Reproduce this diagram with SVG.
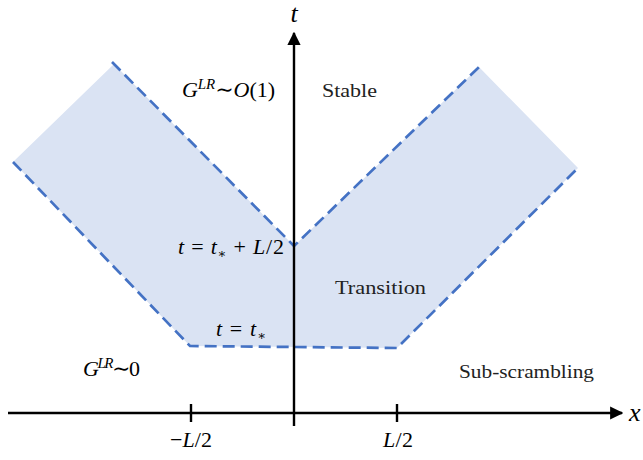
<svg xmlns="http://www.w3.org/2000/svg" width="643" height="460" viewBox="0 0 643 460">
<style>
.m{font-family:"Liberation Serif","DejaVu Serif",serif;font-size:22px;fill:#000}
.big{font-size:26px}
.i{font-style:italic}
.r{font-family:"Liberation Serif","DejaVu Serif",serif;font-size:19px;fill:#222}
.dash{fill:none;stroke:#4472C4;stroke-width:2.7;stroke-dasharray:12 6}
.ax{stroke:#000;stroke-width:2.4;fill:none}
</style>
<defs>
<marker id="ah" viewBox="0 0 10 10" refX="9" refY="5" markerWidth="5.5" markerHeight="5.5" orient="auto" markerUnits="strokeWidth">
<path d="M0,0 L10,5 L0,10 z" fill="#000"/>
</marker>
</defs>
<g id="region">
<polygon points="114,64 13,162 190,346 397,348 578,168 479,67 294,246" fill="#DAE3F3"/>
</g>
<g id="connectors">
<polyline class="dash" points="112,62 294,246 479,67"/>
<polyline class="dash" points="13,162 190,346 397,348 578,168"/>
<line class="ax" x1="294" y1="426" x2="294" y2="33" marker-end="url(#ah)"/>
<line class="ax" x1="8" y1="413" x2="622" y2="413" marker-end="url(#ah)"/>
<line class="ax" x1="191" y1="404" x2="191" y2="422"/>
<line class="ax" x1="397" y1="404" x2="397" y2="422"/>
</g>
<g id="labels">
<text class="m i big" x="294" y="22" text-anchor="middle">t</text>
<text class="m i big" x="629" y="421">x</text>
<text class="m" x="182" y="97" textLength="93"><tspan class="i">G</tspan><tspan class="i" font-size="15" dy="-8">LR</tspan><tspan dy="8">∼</tspan><tspan class="i">O</tspan>(1)</text>
<text class="r" x="322" y="97" textLength="55" lengthAdjust="spacingAndGlyphs">Stable</text>
<text class="m" x="178" y="254" textLength="106"><tspan class="i">t</tspan> = <tspan class="i">t</tspan><tspan font-size="13" dy="4">∗</tspan><tspan dy="-4"> + </tspan><tspan class="i">L</tspan>/2</text>
<text class="r" x="335" y="294" textLength="91" lengthAdjust="spacingAndGlyphs">Transition</text>
<text class="m" x="216" y="336" textLength="50"><tspan class="i">t</tspan> = <tspan class="i">t</tspan><tspan font-size="13" dy="4">∗</tspan></text>
<text class="m" x="83" y="376" textLength="57"><tspan class="i">G</tspan><tspan class="i" font-size="15" dy="-8">LR</tspan><tspan dy="8">∼0</tspan></text>
<text class="r" x="459" y="378" textLength="135" lengthAdjust="spacingAndGlyphs">Sub-scrambling</text>
<text class="m" x="170" y="447" textLength="42">−<tspan class="i">L</tspan>/2</text>
<text class="m" x="383" y="447" textLength="30"><tspan class="i">L</tspan>/2</text>
</g>
</svg>
